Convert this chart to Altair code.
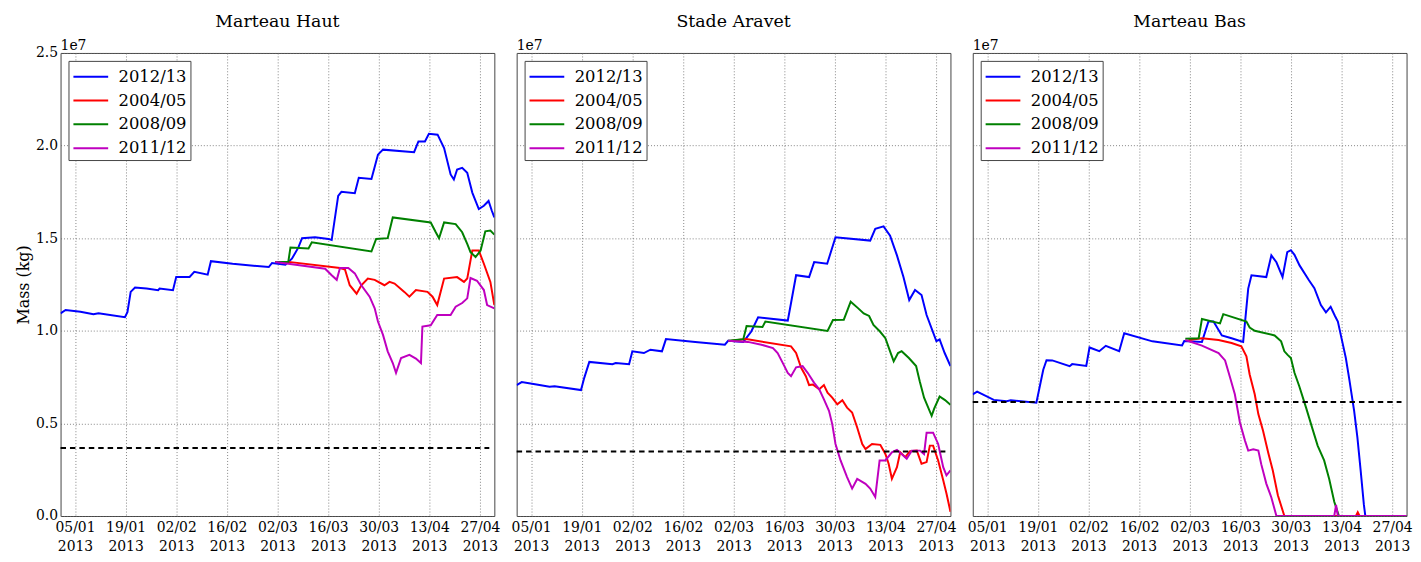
import altair as alt
import pandas as pd

PANELS = ["Marteau Haut", "Stade Aravet", "Marteau Bas"]
SERIES = ["2012/13", "2004/05", "2008/09", "2011/12"]
COLORS = ["#0000ff", "#ff0000", "#008000", "#bf00bf"]
THRESHOLDS = [0.367, 0.348, 0.616]          # dashed level per panel (x 1e7 kg)
THRESHOLD_DAYS = [0, 118.6]
TICK_DATES = [(1, 5), (1, 19), (2, 2), (2, 16), (3, 2), (3, 16), (3, 30), (4, 13), (4, 27)]
Y_TICKS = [0.0, 0.5, 1.0, 1.5, 2.0, 2.5]

# days since 2013-01-01, values in 1e7 kg
# ---- Marteau Haut ----
MH_1213_D = [0, 1.4, 5.5, 9.1, 10.5, 17.8, 18.5, 19.4, 20.6, 23.8, 27, 27.4, 31.1, 32, 35.7, 37, 40.7, 41.6,
             47.6, 57.6, 58.5, 62.2, 64, 65.8, 66.8, 70.4, 74.1, 75, 76.8, 77.7, 81.4, 82.5, 86, 87.8, 89.2,
             97.8, 99, 100.8, 101.9, 104.3, 106.1, 107.9, 108.8, 109.7, 111.1, 112.5, 113.9, 115.7, 117.1,
             118.4, 119.3, 120]
MH_1213_V = [1.094, 1.112, 1.103, 1.089, 1.094, 1.073, 1.10, 1.21, 1.234, 1.228, 1.219, 1.228, 1.219, 1.291,
             1.291, 1.318, 1.303, 1.376, 1.362, 1.344, 1.366, 1.357, 1.389, 1.45, 1.50, 1.505, 1.496, 1.49,
             1.728, 1.75, 1.743, 1.826, 1.82, 1.951, 1.978, 1.964, 2.022, 2.022, 2.064, 2.059, 1.987, 1.844,
             1.817, 1.871, 1.880, 1.853, 1.746, 1.657, 1.675, 1.701, 1.648, 1.612]
MH_0405_D = [59.4, 63.1, 77.3, 78.7, 80, 81.9, 83.2, 85, 86.9, 89.6, 91, 92.4, 95.1, 96.5, 98.3, 101.5,
             102.9, 104.2, 106.1, 109.7, 111.6, 112.5, 113.9, 115.7, 117.1, 118.9, 120]
MH_0405_V = [1.371, 1.372, 1.339, 1.33, 1.246, 1.20, 1.246, 1.282, 1.275, 1.246, 1.264, 1.255, 1.21, 1.184,
             1.22, 1.21, 1.184, 1.139, 1.282, 1.29, 1.264, 1.282, 1.433, 1.433, 1.362, 1.264, 1.139]
MH_0809_D = [59.4, 63, 63.6, 68.6, 69.5, 86, 87.3, 90.5, 91.9, 102.4, 103.8, 104.7, 106.1, 109.3, 111.1,
             112.5, 113.4, 114.8, 116.2, 117.5, 118.9, 120]
MH_0809_V = [1.371, 1.372, 1.45, 1.445, 1.478, 1.428, 1.496, 1.50, 1.612, 1.585, 1.532, 1.50, 1.585, 1.576,
             1.532, 1.469, 1.425, 1.398, 1.433, 1.537, 1.541, 1.519]
MH_1112_D = [59.4, 73.2, 75, 76.4, 77.3, 79.6, 81.4, 83.2, 85.5, 86.9, 87.8, 89.2, 90.5, 91.9, 92.8, 94.2,
             96.5, 98.3, 99.7, 100.1, 102.4, 104.2, 107.9, 109.3, 111.1, 112.5, 113.4, 115.2, 117.1, 118, 120]
MH_1112_V = [1.371, 1.335, 1.30, 1.275, 1.339, 1.339, 1.31, 1.246, 1.184, 1.121, 1.05, 0.978, 0.889, 0.826,
             0.773, 0.853, 0.87, 0.85, 0.826, 1.023, 1.03, 1.085, 1.085, 1.13, 1.15, 1.175, 1.285, 1.27,
             1.22, 1.139, 1.121]
# ---- Stade Aravet ----
SA_1213_D = [0, 1.4, 5.5, 9.1, 10.5, 17.8, 18.7, 20.1, 26.5, 27.4, 31.1, 32, 35.2, 37, 40.2, 41.3, 49.4,
             57.6, 58.5, 62.7, 64.9, 66.8, 75, 75.9, 77.3, 80.9, 82.3, 85.9, 88.2, 97.8, 99.2, 101.5, 103.3,
             105.2, 107, 108.6, 110.2, 112, 113.4, 116.1, 117, 118.4, 120]
SA_1213_V = [0.707, 0.723, 0.71, 0.698, 0.70, 0.68, 0.746, 0.832, 0.82, 0.826, 0.82, 0.889, 0.88, 0.898,
             0.889, 0.955, 0.94, 0.925, 0.946, 0.94, 0.996, 1.073, 1.055, 1.15, 1.30, 1.29, 1.371, 1.362,
             1.505, 1.487, 1.55, 1.564, 1.514, 1.407, 1.29, 1.166, 1.22, 1.193, 1.085, 0.944, 0.953, 0.88,
             0.81]
SA_0405_D = [59.4, 63.5, 75.9, 77.3, 78.7, 80, 80.9, 81.9, 83.7, 85, 86, 87.3, 88.7, 90.1, 91.4, 92.8, 94.2,
             95.6, 96.5, 98.3, 100.6, 102, 102.9, 103.8, 105.2, 106.1, 107.5, 108.8, 110.7, 112, 113.4,
             114.3, 115.2, 116.6, 118, 118.9, 120]
SA_0405_V = [0.946, 0.955, 0.916, 0.88, 0.80, 0.755, 0.707, 0.71, 0.684, 0.707, 0.666, 0.639, 0.603, 0.625,
             0.585, 0.559, 0.478, 0.389, 0.362, 0.389, 0.384, 0.335, 0.282, 0.201, 0.264, 0.344, 0.318,
             0.35, 0.353, 0.282, 0.291, 0.38, 0.38, 0.30, 0.193, 0.121, 0.023]
SA_0809_D = [58.5, 62.7, 63.6, 68, 68.8, 86, 87.5, 90.5, 92.4, 94.5, 96, 97.5, 98.7, 100.5, 102, 103.3,
             104.3, 105.5, 106.5, 108.5, 110.5, 111.5, 112.7, 114.8, 115.5, 117, 118.5, 120]
SA_0809_V = [0.946, 0.955, 1.026, 1.02, 1.05, 0.999, 1.058, 1.06, 1.157, 1.121, 1.094, 1.08, 1.032, 0.996,
             0.96, 0.889, 0.835, 0.88, 0.89, 0.853, 0.81, 0.728, 0.639, 0.541, 0.58, 0.645, 0.626, 0.60]
SA_1112_D = [58.5, 64, 67.7, 70.9, 72.2, 73.6, 75, 75.9, 77.3, 79.1, 80.5, 82.3, 83.7, 85, 86.4, 87.3, 88.2,
             89.6, 91.4, 92.8, 94.2, 96.5, 97.8, 99.2, 100.4, 102, 103.8, 105.2, 107.9, 109.3, 111.6, 112.7,
             113.4, 115.2, 116.6, 118, 118.9, 120]
SA_1112_V = [0.946, 0.94, 0.925, 0.907, 0.88, 0.827, 0.773, 0.755, 0.803, 0.809, 0.773, 0.719, 0.684, 0.63,
             0.568, 0.496, 0.389, 0.30, 0.21, 0.148, 0.20, 0.174, 0.148, 0.103, 0.30, 0.30, 0.344, 0.357,
             0.309, 0.353, 0.353, 0.335, 0.45, 0.45, 0.389, 0.264, 0.22, 0.246]
# ---- Marteau Bas ----
MB_1213_D = [0, 1.2, 5.8, 9.4, 10.5, 17.6, 19.5, 20.4, 22, 26.8, 27.5, 31.4, 32.3, 35, 36.8, 40.5, 41.9,
             49.7, 57.9, 58.5, 63.4, 65.2, 66.6, 68.9, 71.6, 74.8, 76.2, 77.1, 81.2, 82.6, 84, 85.7, 87, 88,
             89, 90.4, 93, 94.5, 96.3, 97.7, 99, 100.2, 101, 102.2, 103.2, 104.1, 105.5, 106.4, 107.3,
             108.2, 108.6, 120]
MB_1213_V = [0.657, 0.671, 0.627, 0.62, 0.625, 0.612, 0.79, 0.841, 0.84, 0.809, 0.82, 0.81, 0.91, 0.89,
             0.919, 0.89, 0.987, 0.943, 0.921, 0.945, 0.94, 1.05, 1.05, 0.975, 0.96, 0.94, 1.228, 1.30, 1.29,
             1.407, 1.37, 1.29, 1.425, 1.435, 1.41, 1.353, 1.273, 1.23, 1.139, 1.10, 1.13, 1.08, 1.05, 0.943,
             0.853, 0.746, 0.568, 0.425, 0.246, 0.06, 0.0, 0.0]
MB_0405_D = [59.7, 63.4, 68, 71.6, 74.3, 75.7, 76.6, 78, 79, 80.3, 81.7, 83, 84.4, 86.2, 106, 106.5, 107, 120]
MB_0405_V = [0.95, 0.96, 0.95, 0.934, 0.916, 0.862, 0.764, 0.657, 0.55, 0.46, 0.344, 0.246, 0.112, 0.0, 0.0,
             0.02, 0.0, 0.0]
MB_0809_D = [58.8, 62.5, 63.4, 68.4, 69.3, 75.7, 76.6, 78, 83.5, 85.3, 86.2, 87.1, 88, 89, 90.3, 92.2, 94,
             95.4, 97.2, 98.6, 100, 101.3, 120]
MB_0809_V = [0.957, 0.96, 1.064, 1.04, 1.09, 1.05, 1.018, 1.0, 0.975, 0.943, 0.889, 0.87, 0.853, 0.773,
             0.702, 0.585, 0.469, 0.38, 0.30, 0.20, 0.077, 0.0, 0.0]
MB_1112_D = [58.8, 63.4, 68, 69.8, 71.2, 72.5, 73.9, 75.3, 76.2, 77.6, 79, 79.8, 81.2, 82.6, 84, 100, 100.5,
             101, 120]
MB_1112_V = [0.95, 0.92, 0.88, 0.84, 0.746, 0.657, 0.505, 0.407, 0.353, 0.36, 0.353, 0.28, 0.175, 0.10, 0.0,
             0.0, 0.06, 0.0, 0.0]

PANEL_DATA = [
    [(MH_1213_D, MH_1213_V), (MH_0405_D, MH_0405_V), (MH_0809_D, MH_0809_V), (MH_1112_D, MH_1112_V)],
    [(SA_1213_D, SA_1213_V), (SA_0405_D, SA_0405_V), (SA_0809_D, SA_0809_V), (SA_1112_D, SA_1112_V)],
    [(MB_1213_D, MB_1213_V), (MB_0405_D, MB_0405_V), (MB_0809_D, MB_0809_V), (MB_1112_D, MB_1112_V)],
]

START = pd.Timestamp("2013-01-01")


def to_iso(day):
    return (START + pd.to_timedelta(day, unit="D")).strftime("%Y-%m-%dT%H:%M:%SZ")


FONT = "DejaVu Serif"
x_scale = alt.Scale(type="utc", domain=[alt.DateTime(year=2013, month=1, date=1, utc=True),
                                        alt.DateTime(year=2013, month=5, date=1, utc=True)])
y_scale = alt.Scale(domain=[0, 2.5], nice=False)
x_axis = alt.Axis(values=[alt.DateTime(year=2013, month=m, date=d, utc=True) for m, d in TICK_DATES],
                  labelExpr="[utcFormat(datum.value, '%d/%m'), utcFormat(datum.value, '%Y')]",
                  labelLineHeight=19, labelPadding=5, title=None, grid=True, labelFlush=False)


def make_panel(i):
    rows = []
    for s, (days, vals) in zip(SERIES, PANEL_DATA[i]):
        for d, v in zip(days, vals):
            rows.append({"series": s, "date": to_iso(d), "value": v})
    df = pd.DataFrame(rows)
    thr = pd.DataFrame({"date": [to_iso(d) for d in THRESHOLD_DAYS], "value": [THRESHOLDS[i]] * 2})

    if i == 0:
        y_axis = alt.Axis(values=Y_TICKS, format=".1f", title="Mass (kg)", grid=True, labelPadding=3,
                          titlePadding=4)
    else:
        y_axis = alt.Axis(values=Y_TICKS, labels=False, title=None, grid=True, minExtent=0, maxExtent=0)

    legend = alt.Legend(title=None, orient="top-left", offset=8, fillColor="white", strokeColor="#444",
                        padding=3, symbolType="M-1.46,0H1.46", symbolSize=576, symbolStrokeWidth=2,
                        symbolOffset=6.5, labelOffset=15, labelFontSize=16.5, labelFont=FONT,
                        labelColor="black", rowPadding=2, cornerRadius=0)

    lines = alt.Chart(df).mark_line(strokeWidth=2, clip=True).encode(
        x=alt.X("date:T", scale=x_scale, axis=x_axis),
        y=alt.Y("value:Q", scale=y_scale, axis=y_axis),
        color=alt.Color("series:N", scale=alt.Scale(domain=SERIES, range=COLORS), legend=legend,
                        sort=SERIES),
    )
    dashed = alt.Chart(thr).mark_line(color="black", strokeWidth=2, strokeDash=[5.5, 4]).encode(
        x="date:T", y="value:Q")
    exp = alt.Chart(pd.DataFrame({"t": ["1e7"]})).mark_text(
        align="left", baseline="alphabetic", font=FONT, fontSize=14, color="black").encode(
        x=alt.value(0), y=alt.value(-3), text="t:N")
    return alt.layer(lines, dashed, exp).properties(
        width=437.5, height=467,
        title=alt.Title(PANELS[i], font=FONT, fontSize=17.5, fontWeight="normal", color="black",
                        baseline="alphabetic", offset=-5))


chart = alt.hconcat(*[make_panel(i) for i in range(3)], spacing=22, bounds="flush").resolve_legend(
    color="independent").properties(padding={"left": 7, "top": 2, "right": 0, "bottom": 0}).configure_view(
    stroke="#444", strokeWidth=1).configure_axis(
    labelFont=FONT, labelFontSize=14, labelColor="black", titleFont=FONT, titleFontSize=16,
    titleFontWeight="normal", titleColor="black", gridColor="#666", gridDash=[1, 2], gridWidth=0.8,
    domain=False, ticks=False)

chart.save("out.html", embed_options={"renderer": "svg", "actions": False})
